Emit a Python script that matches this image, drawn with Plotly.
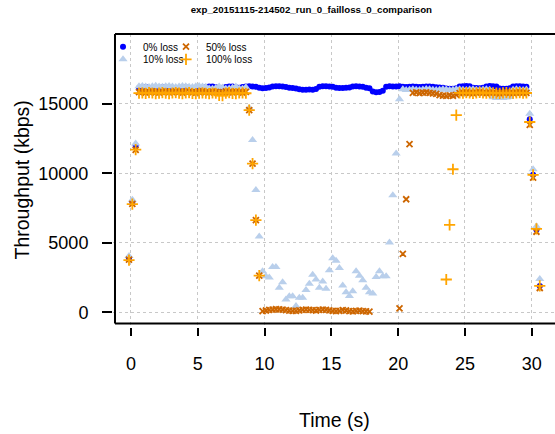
import plotly.graph_objects as go

# Sampling clock of the throughput logger (seconds)
T_START = -0.15
T_STEP = 0.25
N_SAMPLES = 124
time_s = [round(T_START + T_STEP * i, 2) for i in range(N_SAMPLES)]

# Throughput per sample (kbps); None = no sample recorded
tput_0pct = (
    [3900, 7950, 12000]
    + [16150, 16200, 16220, 16160, 16100, 16110, 16150, 16210, 16200, 16140,
       16100, 16120, 16160, 16210, 16200, 16150, 16100, 16110, 16150, 16170,
       16210, 16260, 16250, 16200, 16160, 16170, 16220, 16260, 16250, 16200,
       16170, 16220, 16260]
    + [16270, 16260, 16230]
    + [16160, 16130, 16140, 16180]
    + [16250, 16280, 16270, 16260, 16220]
    + [16160, 16140, 16120]
    + [16060, 16030, 16020, 16040, 16030, 16080]
    + [16230, 16270, 16280, 16260, 16240]
    + [16170, 16140, 16150, 16160, 16190]
    + [16250, 16270, 16260, 16230]
    + [16160, 16130]
    + [15900, 15850, 15860, 15950]
    + [16240, 16270, 16260, 16250, 16270]
    + [16240, 16220, 16230, 16250, 16240, 16220, 16230, 16250, 16260, 16240]
    + [16200, 16190, 16170]
    + [16110, 16090, 16100, 16130]
    + [16250, 16280, 16290, 16270]
    + [16160, 16140, 16130, 16170]
    + [16260, 16290, 16280, 16250]
    + [16120, 16100, 16090, 16130]
    + [16250, 16280, 16270, 16260, 16240]
    + [13900, 9900, 5950, 1900]
)

tput_10pct = (
    [4050, 8100, 12150]
    + [16280, 16300, 16250, 16220, 16280, 16310, 16260, 16230, 16270, 16300,
       16250, 16220, 16260, 16300, 16280, 16240, 16220, 16270, 16300, 16260,
       16230, 16120, 16100, 16150, 16250, 16180, 16090, 16110, 16160, 16250,
       16120, 16100, 16200]
    + [14700, 12400, 8800, 5450]
    + [2950, 2600, 2500, 3260, 3260, 1760, 2170, 930, 1150, 1150,
       450, 1050, 1050, 1600, 2050, 2710, 2360, 1760, 2210, 1690,
       3020, 3900, 3710, 3190, 1930, 1450, 1170, 1520, 2950, 2640,
       2310, 1760, 1450, 1360, 2550, 2950, 2600, 2600, 5020, 8430]
    + [11430, 15330]
    + [16050, 16000, 16020, 16060, 16030, 16000, 16040, 16070, 16050, 16020,
       16000, 16030, 16060, 16040, 16010, 16030, 16060, 16050, 16020, 16000,
       16040, 16060, 16030, 16010, 16040, 16060, 16030]
    + [15480, 15430, 15450, 15420, 15460, 15500]
    + [16020, 16050, 16030, 16000, 16040]
    + [14300, 10300, 6200, 2400]
)

tput_50pct = (
    [3800, 7800, 11700]
    + [15850, 15880, 15820, 15860, 15900, 15840, 15810, 15870, 15890, 15830,
       15850, 15900, 15860, 15820, 15870, 15890, 15840, 15810, 15860, 15900,
       15850, 15830, 15880, 15870, 15820, 15850, 15900, 15860, 15830, 15880,
       15850, 15820, 15870]
    + [14550, 10700, 6640, 2640]
    + [80, 130, 170, 200, 220, 210, 190, 150, 120, 100,
       110, 140, 180, 200, 170, 150, 130, 170, 200, 180,
       140, 100, 80, 110, 150, 130, 90, 70, 100, 120,
       90, 60, 50]
    + [None] * 8
    + [290, 4200, 8140, 12100]
    + [15800, 15830, 15780, 15810, 15840, 15790, 15760, 15720]
    + [15640, 15600, 15580, 15620, 15590, 15650]
    + [15780, 15810, 15840, 15800, 15770, 15820, 15850, 15800, 15780, 15810,
       15830, 15790, 15770, 15820, 15840, 15800, 15780, 15810, 15830, 15800,
       15790]
    + [13500, 9700, 5800, 1750]
)

tput_100pct = (
    [3750, 7790, 11710]
    + [15780, 15800, 15760, 15820, 15790, 15750, 15780, 15810, 15770, 15740,
       15790, 15820, 15780, 15750, 15790, 15810, 15760, 15740, 15780, 15800,
       15770, 15750, 15790, 15770, 15620, 15600, 15780, 15810, 15760, 15740,
       15790, 15800, 15770]
    + [14550, 10700, 6640, 2640]
    + [None] * 55
    + [2360, 6300, 10300, 14200]
    + [15800, 15780, 15820, 15790, 15760, 15800, 15830, 15790, 15770, 15810,
       15800, 15780, 15760, 15800, 15820, 15790, 15770, 15800, 15810, 15780,
       15790]
    + [13700, 9900, 6000, 1900]
)

x_ticks = [0, 5, 10, 15, 20, 25, 30]
y_ticks = [0, 5000, 10000, 15000]

for s in (tput_0pct, tput_10pct, tput_50pct, tput_100pct):
    assert len(s) == N_SAMPLES

FONT = "Liberation Sans, Arial, sans-serif"

# name, values, legend slot, marker style
series = [
    ("0% loss", tput_0pct, "legend",
     dict(symbol="circle", size=6, color="#0000ff", line=dict(width=0))),
    ("10% loss", tput_10pct, "legend2",
     dict(symbol="triangle-up", size=8, color="#b9cfeb", line=dict(width=0))),
    ("50% loss", tput_50pct, "legend3",
     dict(symbol="x-thin", size=6, color="#cd6600",
          line=dict(width=1.8, color="#cd6600"))),
    ("100% loss", tput_100pct, "legend4",
     dict(symbol="cross-thin", size=8, color="#ffa500",
          line=dict(width=1.8, color="#ffa500"))),
]

fig = go.Figure()
for name, values, leg, marker in series:
    fig.add_trace(go.Scatter(
        x=time_s, y=values, mode="markers", name=name, showlegend=True,
        marker=marker, legend=leg, cliponaxis=False,
    ))

axis_common = dict(
    showline=False, zeroline=False, ticks="outside", tickwidth=1.5,
    tickcolor="black", showgrid=True, gridcolor="#c8c8c8", griddash="dot",
    gridwidth=1, tickfont=dict(family=FONT, size=18, color="black"),
)

legend_common = dict(
    orientation="h", xanchor="left", yanchor="middle",
    bgcolor="rgba(0,0,0,0)", borderwidth=0,
    font=dict(family=FONT, size=10, color="black"),
)

# two-column key: (0%, 10%) on the left, (50%, 100%) on the right
col_left, col_right = -0.0226, 0.1199
row_top, row_bottom = 0.9567, 0.9137

fig.update_layout(
    width=555, height=434, autosize=False,
    showlegend=True,
    margin=dict(l=113, r=0, t=34, b=107),
    paper_bgcolor="white", plot_bgcolor="white",
    title=dict(
        text="exp_20151115-214502_run_0_failloss_0_comparison",
        x=0.561, xanchor="center", y=0.977, yanchor="middle",
        font=dict(family=FONT, size=9.7, color="black", weight="bold"),
    ),
    xaxis=dict(range=[-1.347, 31.74], tickvals=x_ticks, ticklen=8,
               ticklabelstandoff=12, **axis_common),
    yaxis=dict(range=[-1058, 20036], tickvals=y_ticks, tickformat="d",
               ticklen=10, ticklabelstandoff=10, **axis_common),
    legend=dict(x=col_left, y=row_top, **legend_common),
    legend2=dict(x=col_left, y=row_bottom, **legend_common),
    legend3=dict(x=col_right, y=row_top, **legend_common),
    legend4=dict(x=col_right, y=row_bottom, **legend_common),
    annotations=[
        dict(text="Time (s)", x=0.502, y=-0.317, xref="paper", yref="paper",
             showarrow=False, xanchor="center", yanchor="middle",
             font=dict(family=FONT, size=19.5, color="black")),
        dict(text="Throughput (kbps)", x=-0.2048, y=0.5017, xref="paper",
             yref="paper", showarrow=False, textangle=-90,
             xanchor="center", yanchor="middle",
             font=dict(family=FONT, size=19.5, color="black")),
    ],
    shapes=[
        # frame: top, left and bottom edges (open on the right)
        dict(type="line", xref="paper", yref="paper", x0=0.0045, x1=1.02,
             y0=1.0, y1=1.0, line=dict(color="black", width=2)),
        dict(type="line", xref="paper", yref="paper", x0=0.0045, x1=0.0045,
             y0=0.012, y1=1.0, line=dict(color="black", width=2)),
        dict(type="line", xref="paper", yref="paper", x0=0.0045, x1=1.02,
             y0=0.012, y1=0.012, line=dict(color="black", width=2)),
    ],
)

fig.write_html("out.html")
